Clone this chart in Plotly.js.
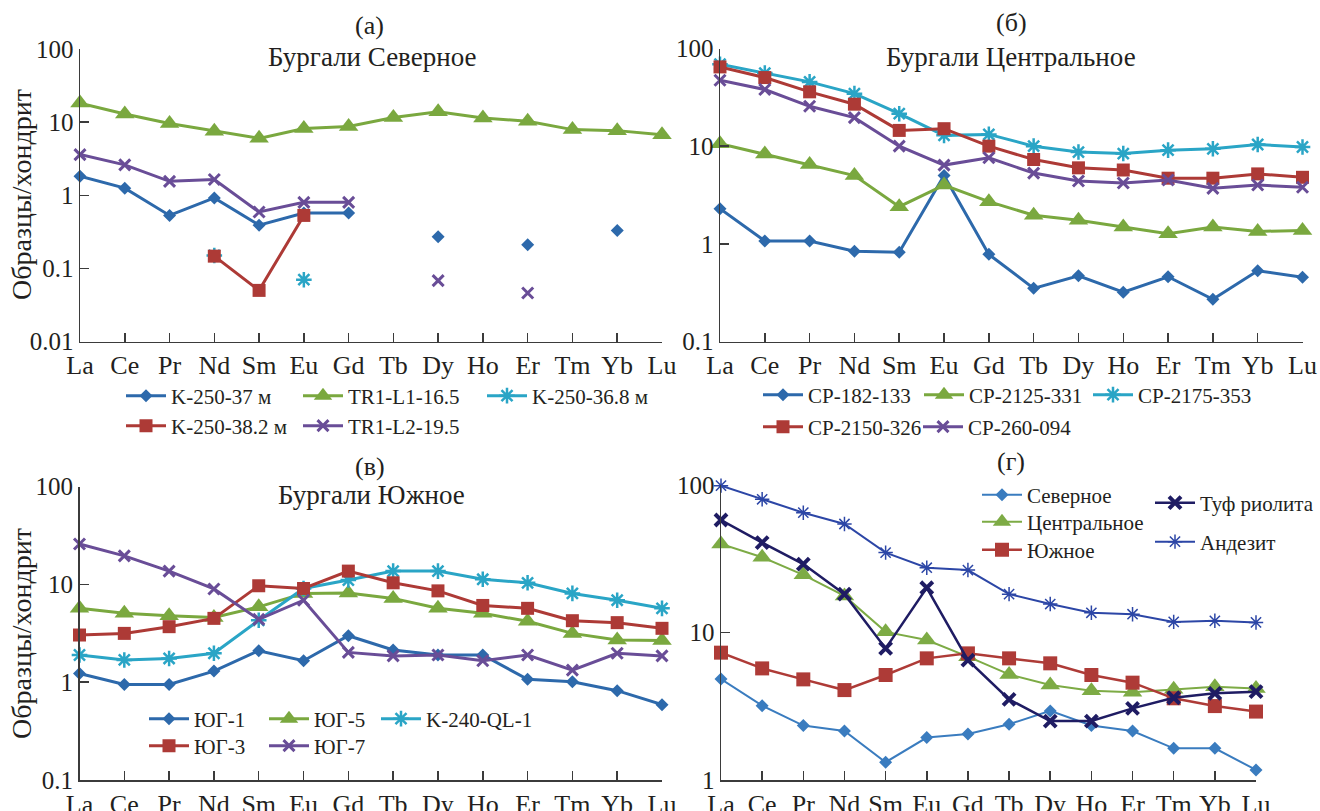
<!DOCTYPE html>
<html><head><meta charset="utf-8">
<script src="https://cdn.plot.ly/plotly-3.0.1.min.js"></script>
<style>html,body{margin:0;padding:0;background:#fff;} #chart{width:1320px;height:811px;}</style>
</head><body><div id="chart"></div>
<script>
const elements = ['La','Ce','Pr','Nd','Sm','Eu','Gd','Tb','Dy','Ho','Er','Tm','Yb','Lu'];
const yTickVals = [0.01, 0.1, 1, 10, 100];
const yTickText = ['0.01', '0.1', '1', '10', '100'];

// (а) Бургали Северное
const a_names = ['K-250-37 м', 'TR1-L1-16.5', 'K-250-36.8 м', 'K-250-38.2 м', 'TR1-L2-19.5'];
const a_K250_37   = [1.82, 1.25, 0.53, 0.92, 0.39, 0.57, 0.57, null, 0.27, null, 0.21, null, 0.33, null];
const a_TR1_L1    = [18.2, 12.9, 9.6, 7.5, 6.0, 8.2, 8.7, 11.6, 13.9, 11.4, 10.3, 7.9, 7.65, 6.7];
const a_K250_368  = [null, null, null, 0.15, null, 0.070, null, null, null, null, null, null, null, null];
const a_K250_382  = [null, null, null, 0.147, 0.050, 0.53, null, null, null, null, null, null, null, null];
const a_TR1_L2    = [3.6, 2.6, 1.55, 1.64, 0.59, 0.80, 0.80, null, 0.068, null, 0.046, null, null, null];

// (б) Бургали Центральное
const b_names = ['CP-182-133', 'CP-2125-331', 'CP-2175-353', 'CP-2150-326', 'CP-260-094'];
const b_CP182  = [2.29, 1.07, 1.07, 0.84, 0.82, 5.0, 0.78, 0.35, 0.47, 0.32, 0.46, 0.27, 0.53, 0.455];
const b_CP2125 = [10.6, 8.3, 6.5, 5.0, 2.4, 4.0, 2.7, 1.96, 1.74, 1.49, 1.27, 1.49, 1.34, 1.37];
const b_CP2175 = [69, 56, 45.5, 34.5, 21.5, 12.9, 13.2, 10.0, 8.7, 8.4, 9.1, 9.4, 10.4, 9.8];
const b_CP2150 = [64.8, 50.4, 36, 26.9, 14.5, 15.1, 10.0, 7.3, 6.0, 5.7, 4.7, 4.7, 5.2, 4.8];
const b_CP260  = [47.3, 38, 25.6, 19.6, 10.0, 6.4, 7.6, 5.3, 4.4, 4.2, 4.5, 3.7, 4.0, 3.8];

// (в) Бургали Южное
const c_names = ['ЮГ-1', 'ЮГ-5', 'K-240-QL-1', 'ЮГ-3', 'ЮГ-7'];
const c_UG1  = [1.23, 0.95, 0.95, 1.30, 2.10, 1.66, 2.99, 2.14, 1.90, 1.90, 1.07, 1.01, 0.82, 0.59];
const c_UG5  = [5.7, 5.07, 4.8, 4.6, 5.9, 8.1, 8.2, 7.2, 5.7, 5.07, 4.2, 3.16, 2.7, 2.68];
const c_K240 = [1.90, 1.69, 1.75, 1.98, 4.3, 9.1, 11.1, 13.7, 13.7, 11.3, 10.4, 8.1, 6.9, 5.7];
const c_UG3  = [3.04, 3.16, 3.7, 4.5, 9.7, 9.1, 13.7, 10.4, 8.6, 6.1, 5.7, 4.26, 4.07, 3.56];
const c_UG7  = [25.9, 19.6, 13.7, 9.0, 4.4, 6.9, 2.02, 1.86, 1.90, 1.66, 1.90, 1.33, 1.98, 1.86];

// (г) сравнение
const d_names = ['Северное', 'Центральное', 'Южное', 'Туф риолита', 'Андезит'];
const d_North   = [4.84, 3.19, 2.34, 2.15, 1.32, 1.94, 2.05, 2.39, 2.94, 2.34, 2.15, 1.64, 1.64, 1.17];
const d_Central = [39.8, 32.4, 24.6, 17.7, 10.1, 8.9, 6.86, 5.2, 4.41, 4.03, 3.93, 4.12, 4.29, 4.18];
const d_South   = [7.3, 5.71, 4.81, 4.07, 5.15, 6.68, 7.22, 6.68, 6.18, 5.15, 4.57, 3.58, 3.17, 2.91];
const d_Tuff    = [57.9, 40.7, 29.1, 18.2, 7.8, 20.1, 6.5, 3.52, 2.51, 2.51, 3.06, 3.61, 3.87, 3.97];
const d_Andes   = [99, 80, 64.9, 54.4, 34.8, 27.5, 26.5, 18.2, 15.6, 13.6, 13.3, 11.8, 12.0, 11.7];

const W = 1320, H = 811;
const FONT = 'Liberation Serif, Times New Roman, serif';
const TXT = '#231f20';

const ST = {
  blue:   {c:'#2d69ab', sym:'diamond', sz:10, mlw:0, lw:3},
  green:  {c:'#7aa83f', sym:'triangle-up', sz:17, mlw:0, lw:3},
  cyan:   {c:'#2aa5c6', sym:'asterisk-open', sz:13, mlw:2.5, lw:3},
  red:    {c:'#ad3a36', sym:'square', sz:13, mlw:0, lw:3},
  purple: {c:'#694d97', sym:'x-thin-open', sz:11, mlw:3, lw:3},
  dNorth: {c:'#3a7cbf', sym:'diamond', sz:10, mlw:0, lw:2},
  dCent:  {c:'#7dab45', sym:'triangle-up', sz:17, mlw:0, lw:2},
  dSouth: {c:'#ae3b37', sym:'square', sz:14, mlw:0, lw:2.5},
  dTuff:  {c:'#1f1c63', sym:'x-thin-open', sz:12, mlw:4, lw:2.5},
  dAnd:   {c:'#2c46a6', sym:'asterisk-open', sz:12, mlw:1.5, lw:2}
};

let legendCount = 0;
const legends = {};
function addLegend(textX, py) {
  legendCount++;
  const key = legendCount === 1 ? 'legend' : 'legend' + legendCount;
  legends[key] = {
    x: (textX - 49) / W, y: 1 - py / H, xanchor: 'left', yanchor: 'middle',
    bgcolor: 'rgba(0,0,0,0)', borderwidth: 0, orientation: 'v', itemwidth: 40,
    font: {family: FONT, size: 21, color: TXT}, itemclick: false, itemdoubleclick: false
  };
  return key;
}

function tr(name, y, n, st, lpos) {
  const xa = n === 1 ? 'x' : 'x' + n, ya = n === 1 ? 'y' : 'y' + n;
  return {
    type: 'scatter', mode: 'lines+markers', x: elements, y: y, name: name,
    xaxis: xa, yaxis: ya, cliponaxis: false, connectgaps: false,
    legend: addLegend(lpos[0], lpos[1]),
    line: {color: st.c, width: st.lw},
    marker: {symbol: st.sym, size: st.sz, color: st.c, line: {color: st.c, width: st.mlw}}
  };
}

// legend positions given as [text start x, row centre y]
const data = [
  tr(a_names[0], a_K250_37, 1, ST.blue, [170, 396]),
  tr(a_names[1], a_TR1_L1, 1, ST.green, [347, 396]),
  tr(a_names[2], a_K250_368, 1, ST.cyan, [531, 396]),
  tr(a_names[3], a_K250_382, 1, ST.red, [170, 426]),
  tr(a_names[4], a_TR1_L2, 1, ST.purple, [347, 426]),

  tr(b_names[0], b_CP182, 2, ST.blue, [807, 395]),
  tr(b_names[1], b_CP2125, 2, ST.green, [968, 395]),
  tr(b_names[2], b_CP2175, 2, ST.cyan, [1137, 395]),
  tr(b_names[3], b_CP2150, 2, ST.red, [807, 427]),
  tr(b_names[4], b_CP260, 2, ST.purple, [967, 427]),

  tr(c_names[0], c_UG1, 3, ST.blue, [193, 719]),
  tr(c_names[1], c_UG5, 3, ST.green, [313, 719]),
  tr(c_names[2], c_K240, 3, ST.cyan, [425, 719]),
  tr(c_names[3], c_UG3, 3, ST.red, [193, 746]),
  tr(c_names[4], c_UG7, 3, ST.purple, [313, 746]),

  tr(d_names[0], d_North, 4, ST.dNorth, [1026, 495]),
  tr(d_names[1], d_Central, 4, ST.dCent, [1026, 522]),
  tr(d_names[2], d_South, 4, ST.dSouth, [1026, 550]),
  tr(d_names[3], d_Tuff, 4, ST.dTuff, [1199, 503]),
  tr(d_names[4], d_Andes, 4, ST.dAnd, [1199, 542])
];

function xax(x0, x1, anchor) {
  return {
    domain: [x0 / W, x1 / W], anchor: anchor, type: 'category',
    categoryorder: 'array', categoryarray: elements, range: [0, 13],
    showline: true, linecolor: '#3b3b3b', linewidth: 1.5,
    ticks: 'inside', ticklen: 9, tickwidth: 1.5, tickcolor: '#3b3b3b',
    showgrid: false, zeroline: false, fixedrange: true,
    tickfont: {family: FONT, size: 26, color: TXT}
  };
}
function yax(ytop, ybot, anchor, lo, hi) {
  return {
    domain: [1 - ybot / H, 1 - ytop / H], anchor: anchor, type: 'log',
    range: [lo, hi], tickmode: 'array', tickvals: yTickVals, ticktext: yTickText,
    showline: true, linecolor: '#3b3b3b', linewidth: 1.5,
    ticks: 'inside', ticklen: 9, tickwidth: 1.5, tickcolor: '#3b3b3b',
    showgrid: false, zeroline: false, fixedrange: true,
    tickfont: {family: FONT, size: 25, color: TXT}
  };
}

function ann(text, px, py, size, angle) {
  return {text: text, xref: 'paper', yref: 'paper', x: px / W, y: 1 - py / H,
    xanchor: 'center', yanchor: 'middle', showarrow: false, textangle: angle || 0,
    font: {family: FONT, size: size, color: TXT}};
}

const layout = Object.assign({
  width: W, height: H,
  margin: {l: 0, r: 0, t: 0, b: 0},
  paper_bgcolor: '#ffffff', plot_bgcolor: 'rgba(0,0,0,0)',
  showlegend: true,
  xaxis: xax(80, 662, 'y'),
  yaxis: yax(49, 341.5, 'x', -2, 2),
  xaxis2: xax(720, 1302.5, 'y2'),
  yaxis2: yax(48.5, 341.5, 'x2', -1, 2),
  xaxis3: xax(79.5, 662, 'y3'),
  yaxis3: yax(486.7, 780, 'x3', -1, 2),
  xaxis4: xax(721, 1256, 'y4'),
  yaxis4: yax(485, 780, 'x4', 0, 2),
  annotations: [
    ann('(а)', 370, 25, 26), ann('Бургали Северное', 372, 57, 27),
    ann('(б)', 1011, 23, 26), ann('Бургали Центральное', 1011, 57, 27),
    ann('(в)', 370, 466, 26), ann('Бургали Южное', 371, 495, 27),
    ann('(г)', 1011, 462, 26),
    ann('Образцы/хондрит', 21, 195, 28, -90),
    ann('Образцы/хондрит', 21, 634, 28, -90)
  ]
}, legends);

Plotly.newPlot('chart', data, layout, {displayModeBar: false, staticPlot: true});
</script>
</body></html>
